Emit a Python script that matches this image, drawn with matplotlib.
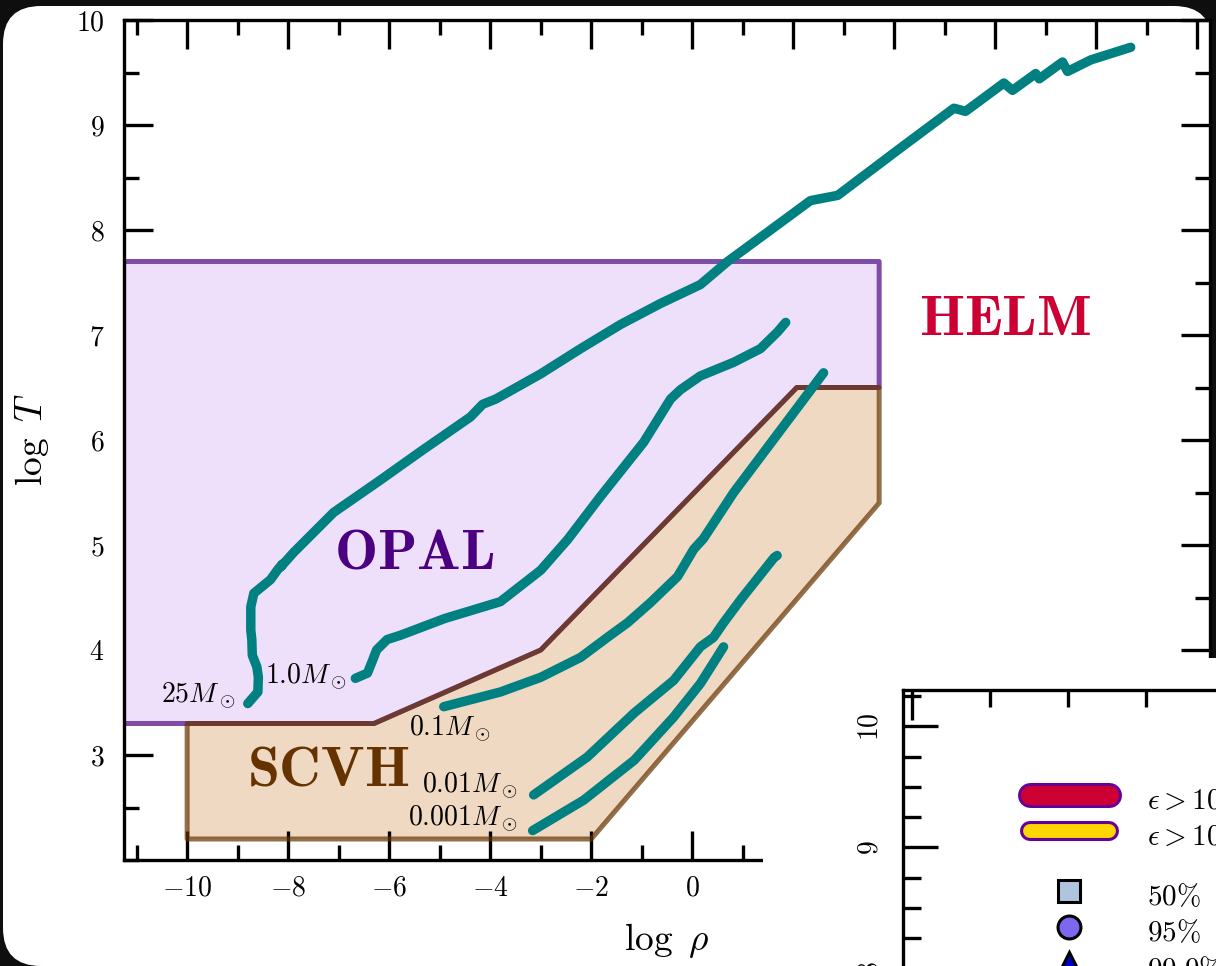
import matplotlib
matplotlib.use("Agg")
import matplotlib.pyplot as plt
import matplotlib.patheffects as pe
from matplotlib.patches import Polygon, FancyBboxPatch, Rectangle
from matplotlib.lines import Line2D
from matplotlib.ticker import MultipleLocator, FixedLocator
from matplotlib.transforms import IdentityTransform

plt.rcParams["font.family"] = "serif"
plt.rcParams["font.serif"] = ["cmr10"]
plt.rcParams["mathtext.fontset"] = "cm"
plt.rcParams["axes.formatter.use_mathtext"] = True

# ---- EOS region boundaries (log rho, log T) ----
opal_rho = [-12.0, 3.7, 3.7, 2.07, -3.0, -6.3, -12.0]
opal_T = [7.7, 7.7, 6.5, 6.5, 4.0, 3.3, 3.3]
scvh_rho = [-10.0, -6.3, -3.0, 2.07, 3.7, 3.7, -2.0, -10.0]
scvh_T = [3.3, 3.3, 4.0, 6.5, 6.5, 5.4, 2.2, 2.2]

# ---- central density / temperature tracks ----
rho_25 = [-8.80, -8.60, -8.59, -8.62, -8.71, -8.72, -8.74, -8.74, -8.68, -8.35,
          -8.20, -8.11, -8.15, -7.89, -7.10, -6.17, -5.38, -4.39, -4.15, -3.89,
          -3.00, -2.21, -1.42, -0.63, 0.16, 0.70, 1.55, 2.34, 2.88, 4.12,
          5.18, 5.41, 6.17, 6.34, 6.80, 6.87, 7.33, 7.43, 7.89, 8.68]
T_25 = [3.49, 3.60, 3.74, 3.84, 3.95, 4.10, 4.19, 4.41, 4.54, 4.67,
        4.77, 4.82, 4.79, 4.93, 5.31, 5.62, 5.89, 6.22, 6.34, 6.39,
        6.63, 6.87, 7.10, 7.30, 7.48, 7.70, 8.00, 8.28, 8.33, 8.78,
        9.16, 9.13, 9.40, 9.33, 9.49, 9.44, 9.60, 9.51, 9.62, 9.74]

rho_1 = [-6.67, -6.43, -6.33, -6.25, -6.04, -5.78, -4.90, -3.80, -3.00, -2.47,
         -1.82, -0.96, -0.43, -0.23, 0.16, 0.82, 1.35, 1.69, 1.85]
T_1 = [3.73, 3.78, 3.90, 4.00, 4.10, 4.14, 4.30, 4.46, 4.76, 5.05,
       5.46, 5.98, 6.39, 6.48, 6.61, 6.74, 6.87, 7.03, 7.12]

rho_01 = [-4.92, -3.80, -3.00, -2.21, -1.68, -1.28, -0.83, -0.29, 0.03, 0.22,
          0.82, 2.60]
T_01 = [3.46, 3.60, 3.74, 3.93, 4.12, 4.26, 4.45, 4.70, 4.96, 5.06,
        5.50, 6.64]

rho_001 = [-3.14, -2.08, -1.15, -0.37, 0.16, 0.42, 0.62, 0.96, 1.62, 1.68]
T_001 = [2.62, 2.98, 3.40, 3.71, 4.03, 4.12, 4.26, 4.48, 4.88, 4.90]

rho_0001 = [-3.16, -2.15, -1.15, -0.37, 0.16, 0.62]
T_0001 = [2.28, 2.57, 2.95, 3.36, 3.68, 4.03]

tracks = [(rho_25, T_25), (rho_1, T_1), (rho_01, T_01),
          (rho_001, T_001), (rho_0001, T_0001)]

# mass labels: text, right edge (log rho), baseline (log T)
mass_text = [r"$25M_\odot$", r"$1.0M_\odot$", r"$0.1M_\odot$",
             r"$0.01M_\odot$", r"$0.001M_\odot$"]
mass_rho = [-9.04, -6.83, -3.99, -3.46, -3.46]
mass_T = [3.50, 3.685, 3.19, 2.64, 2.33]

region_text = [r"$\mathbf{OPAL}$", r"$\mathbf{SCVH}$", r"$\mathbf{HELM}$"]
region_rho = [-5.5, -7.2, 6.2]
region_T = [4.78, 2.71, 7.0]
region_color = ["#4B0082", "#663300", "#CC0033"]

W, H = 1216, 966
fig = plt.figure(figsize=(W / 100, H / 100), dpi=100, facecolor="#0e0e0e")

# rounded white panel
panel = FancyBboxPatch((3, 0), 1209, 960,
                       boxstyle="round,pad=0,rounding_size=38",
                       transform=IdentityTransform(), facecolor="white",
                       edgecolor="none", zorder=-5)
fig.add_artist(panel)

ax = fig.add_axes([124 / W, (H - 860) / H, (1210 - 124) / W, (860 - 20) / H])
ax.set_zorder(1)

ax.add_patch(Polygon(list(zip(scvh_rho, scvh_T)), closed=True,
                     facecolor="#EFD9C3", edgecolor="none", zorder=1))
ax.add_patch(Polygon(list(zip(opal_rho, opal_T)), closed=True,
                     facecolor="#EEDFFA", edgecolor="#7F4DA8", lw=3.6,
                     joinstyle="round", zorder=2))
ax.add_patch(Polygon(list(zip(scvh_rho, scvh_T)), closed=True,
                     facecolor="none", edgecolor=(0.4, 0.2, 0.0, 0.7), lw=3.6,
                     joinstyle="round", zorder=3))

for r, t in tracks:
    ax.plot(r, t, color="#008080", lw=6.8, solid_capstyle="round",
            solid_joinstyle="round", zorder=5)

for s, x, y in zip(mass_text, mass_rho, mass_T):
    ax.text(x, y, s, fontsize=20, ha="right", va="baseline", zorder=6)

for s, x, y, c in zip(region_text, region_rho, region_T, region_color):
    ax.text(x, y, s, fontsize=41.5, ha="center", va="baseline", color=c, zorder=6)

ax.set_xlim(-11.25, 10.25)
ax.set_ylim(2.0, 10.0)
ax.xaxis.set_major_locator(MultipleLocator(2))
ax.xaxis.set_minor_locator(MultipleLocator(1))
ax.yaxis.set_major_locator(FixedLocator(list(range(3, 11))))
ax.yaxis.set_minor_locator(MultipleLocator(0.5))
ax.tick_params(which="both", direction="in", top=True, right=True,
               width=2.4, labelsize=20)
ax.tick_params(which="major", length=21)
ax.tick_params(which="minor", length=10.5)
ax.tick_params(axis="y", pad=14)
ax.tick_params(axis="x", pad=11)
for sp in ax.spines.values():
    sp.set_linewidth(2.4)
ax.set_xlabel(r"$\log\ \rho$", fontsize=27, labelpad=14)
ax.set_ylabel(r"$\log\ T$", fontsize=27, labelpad=18)

# white area under the second panel
cover = Rectangle((763, -5), W - 763 + 10, 308 + 5, transform=IdentityTransform(),
                  facecolor="white", edgecolor="none", zorder=2)
fig.add_artist(cover)

# second panel (partially visible)
ax2 = fig.add_axes([903 / W, -0.2529, 0.3602, 0.5386])
ax2.set_zorder(3)
ax2.set_xlim(-0.115, 5.5)
ax2.set_ylim(6.0, 10.3)
ax2.xaxis.set_major_locator(MultipleLocator(4))
ax2.xaxis.set_minor_locator(MultipleLocator(1))
ax2.yaxis.set_major_locator(MultipleLocator(1))
ax2.yaxis.set_minor_locator(MultipleLocator(0.25))
ax2.tick_params(which="both", direction="in", top=True, right=True,
                width=2.4, labelsize=20, labelbottom=False)
ax2.tick_params(axis="y", which="major", length=25, pad=14, labelrotation=90)
ax2.tick_params(axis="y", which="minor", length=13)
ax2.tick_params(axis="x", which="major", length=21.6)
ax2.tick_params(axis="x", which="minor", length=12)
for lab in ax2.get_yticklabels():
    lab.set_va("center")
for sp in ax2.spines.values():
    sp.set_linewidth(2.4)

fs = 21
fs_px = fs * 100 / 72


def row_height(px):
    # handleheight giving a legend row of the requested pixel height
    return (px / fs_px - 0.245) / 0.65


h_red = Line2D([], [], color="#CC0033", lw=13.7, solid_capstyle="round",
               path_effects=[pe.Stroke(linewidth=18.0, foreground="#660099"), pe.Normal()])
h_gold = Line2D([], [], color="#FFD700", lw=10.0, solid_capstyle="round",
                path_effects=[pe.Stroke(linewidth=14.4, foreground="#660099"), pe.Normal()])
leg1 = ax2.legend([h_red, h_gold], [r"$\epsilon > 10^{-2}$", r"$\epsilon > 10^{-3}$"],
                  loc="upper left", bbox_to_anchor=(1029.5 / W, (H - 781) / H),
                  bbox_transform=fig.transFigure, frameon=False, borderpad=0,
                  borderaxespad=0, handlelength=79 / fs_px, handletextpad=1.32,
                  handleheight=row_height(36), labelspacing=0, fontsize=fs)
ax2.add_artist(leg1)

h_sq = Line2D([], [], ls="none", marker="s", ms=15.8, mfc="#B0C4DE", mec="black", mew=2.2)
h_ci = Line2D([], [], ls="none", marker="o", ms=16.5, mfc="#7B68EE", mec="black", mew=2.2)
h_tr = Line2D([], [], ls="none", marker="^", ms=17, mfc="#0000CD", mec="black", mew=2.2)
leg2 = ax2.legend([h_sq, h_ci, h_tr], [r"$50\%$", r"$95\%$", r"$99.9\%$"],
                  loc="upper left", bbox_to_anchor=(1029.5 / W, (H - 877) / H),
                  bbox_transform=fig.transFigure, frameon=False, borderpad=0,
                  borderaxespad=0, handlelength=79 / fs_px, handletextpad=1.32,
                  handleheight=row_height(36.5), labelspacing=0, fontsize=fs,
                  numpoints=1)

fig.savefig("out.png", dpi=100, facecolor=fig.get_facecolor())
